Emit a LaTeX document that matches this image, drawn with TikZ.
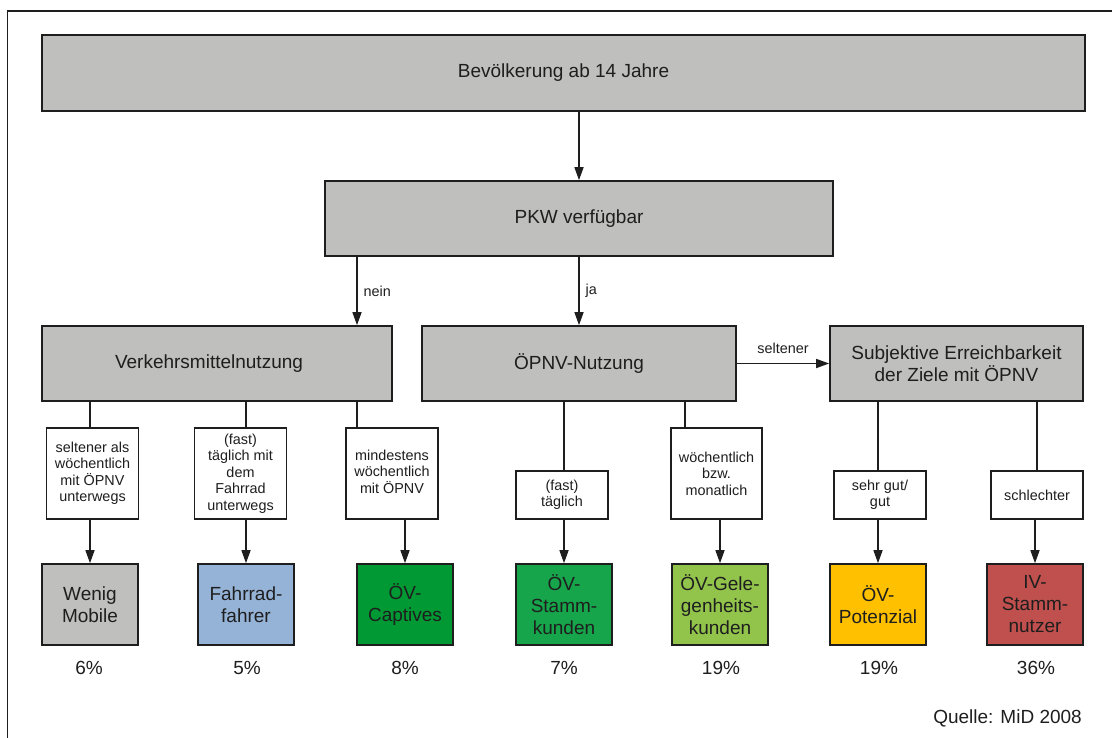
\documentclass[tikz,border=0pt]{standalone}
\usepackage{fontspec}
\setmainfont{Liberation Sans}
\usetikzlibrary{arrows.meta}
\definecolor{boxgray}{RGB}{191,191,189}
\definecolor{cblue}{RGB}{149,179,215}
\definecolor{cgreenA}{RGB}{0,153,51}
\definecolor{cgreenB}{RGB}{22,165,75}
\definecolor{cgreenC}{RGB}{146,196,76}
\definecolor{cyellow}{RGB}{255,192,0}
\definecolor{cred}{RGB}{192,80,77}
\definecolor{ink}{RGB}{30,30,30}
\tikzset{
  bigfont/.style={font=\fontsize{19}{22}\selectfont},
  smallfont/.style={font=\fontsize{14.4}{16.5}\selectfont},
  catbox/.style={draw=ink, fill=boxgray, line width=1.6pt, inner sep=0pt, minimum height=75pt, align=center, bigfont},
  lblbox/.style={draw=ink, fill=white, line width=1.4pt, inner sep=0pt, minimum width=92pt, align=center, smallfont},
  resbox/.style={draw=ink, line width=1.6pt, inner sep=0pt, minimum width=96pt, minimum height=81pt, align=center, bigfont},
  conn/.style={draw=ink, line width=1.4pt},
  arr/.style={conn, -{Triangle[length=13pt,width=9pt]}},
  pct/.style={bigfont, inner sep=0pt},
  edgelbl/.style={smallfont, inner sep=0pt, text=ink}
}
\begin{document}
\begin{tikzpicture}[x=1pt,y=-1pt, text=ink]
\useasboundingbox (0,0) rectangle (1112,738);
\draw[ink, line width=1.4pt] (7.5,738) -- (7.5,11) -- (1112,11);

% level 1 and 2
\node[catbox, minimum width=1043pt, minimum height=76pt] (top) at (563.5,73) {Bevölkerung ab 14 Jahre};
\node[catbox, minimum width=508pt] (pkw) at (579,218.5) {PKW verfügbar};

% level 3
\node[catbox, minimum width=350pt] (vm) at (217,363.5) {Verkehrsmittelnutzung\hspace{16pt}};
\node[catbox, minimum width=314pt] (opnv) at (579,363.5) {ÖPNV-Nutzung};
\node[catbox, minimum width=253pt] (subj) at (956.5,363.5) {Subjektive Erreichbarkeit\\der Ziele mit ÖPNV};

% label boxes
\node[lblbox, minimum height=91pt] (l1) at (92.5,473.5) {seltener als\\wöchentlich\\mit ÖPNV\\unterwegs};
\node[lblbox, minimum height=91pt] (l2) at (240.5,473.5) {(fast)\\täglich mit\\dem\\Fahrrad\\unterwegs};
\node[lblbox, minimum height=91pt] (l3) at (392,473.5) {\raisebox{6.5pt}{\begin{tabular}{@{}c@{}}mindestens\\wöchentlich\\mit ÖPNV\end{tabular}}};
\node[lblbox, minimum height=48pt] (l4) at (562,495) {(fast)\\täglich};
\node[lblbox, minimum height=91pt, minimum width=91pt] (l5) at (716.5,473.5) {wöchentlich\\bzw.\\monatlich};
\node[lblbox, minimum height=48pt] (l6) at (880,495) {sehr gut/\\gut};
\node[lblbox, minimum height=48pt] (l7) at (1037,495) {schlechter};

% result boxes
\node[resbox, fill=boxgray] (r1) at (90,604.5) {Wenig\\Mobile};
\node[resbox, fill=cblue] (r2) at (246,604.5) {Fahrrad-\\fahrer};
\node[resbox, fill=cgreenA] (r3) at (405,604.5) {ÖV-\\Captives};
\node[resbox, fill=cgreenB] (r4) at (564,604.5) {ÖV-\\Stamm-\\kunden};
\node[resbox, fill=cgreenC] (r5) at (720,604.5) {ÖV-Gele-\\genheits-\\kunden};
\node[resbox, fill=cyellow] (r6) at (878,604.5) {ÖV-\\Potenzial};
\node[resbox, fill=cred] (r7) at (1035,604.5) {IV-\\Stamm-\\nutzer};

% percentages
\node[pct] (p1) at (89,668) {6\%};
\node[pct] (p2) at (247,668) {5\%};
\node[pct] (p3) at (405,668) {8\%};
\node[pct] (p4) at (564,668) {7\%};
\node[pct] (p5) at (721,668) {19\%};
\node[pct] (p6) at (879,668) {19\%};
\node[pct] (p7) at (1036,668) {36\%};

\node[pct, anchor=east] (src) at (1082,718) {Quelle: MiD 2008};

% connectors
\draw[arr] (top.south -| pkw.north) -- (pkw.north);
\draw[arr] (pkw.south -| 357,0) -- node[edgelbl, right=6pt] (nein) {nein} (vm.north -| 357,0);
\draw[arr] (pkw.south -| opnv.north) -- node[edgelbl, right=6pt] (ja) {ja} (opnv.north);
\draw[arr] (opnv.east) -- node[edgelbl, above=9pt] (selt) {seltener} (subj.west);

\draw[conn] (vm.south -| r1) -- (l1.north -| r1);
\draw[conn] (vm.south -| r2) -- (l2.north -| r2);
\draw[conn] (vm.south -| 357,0) -- (l3.north -| 357,0);
\draw[conn] (opnv.south -| r4) -- (l4.north -| r4);
\draw[conn] (opnv.south -| 685,0) -- (l5.north -| 685,0);
\draw[conn] (subj.south -| r6) -- (l6.north -| r6);
\draw[conn] (subj.south -| l7) -- (l7.north);

\draw[arr] (l1.south -| r1.north) -- (r1.north);
\draw[arr] (l2.south -| r2.north) -- (r2.north);
\draw[arr] (l3.south -| r3.north) -- (r3.north);
\draw[arr] (l4.south -| r4.north) -- (r4.north);
\draw[arr] (l5.south -| r5.north) -- (r5.north);
\draw[arr] (l6.south -| r6.north) -- (r6.north);
\draw[arr] (l7.south -| r7.north) -- (r7.north);
\end{tikzpicture}
\end{document}
